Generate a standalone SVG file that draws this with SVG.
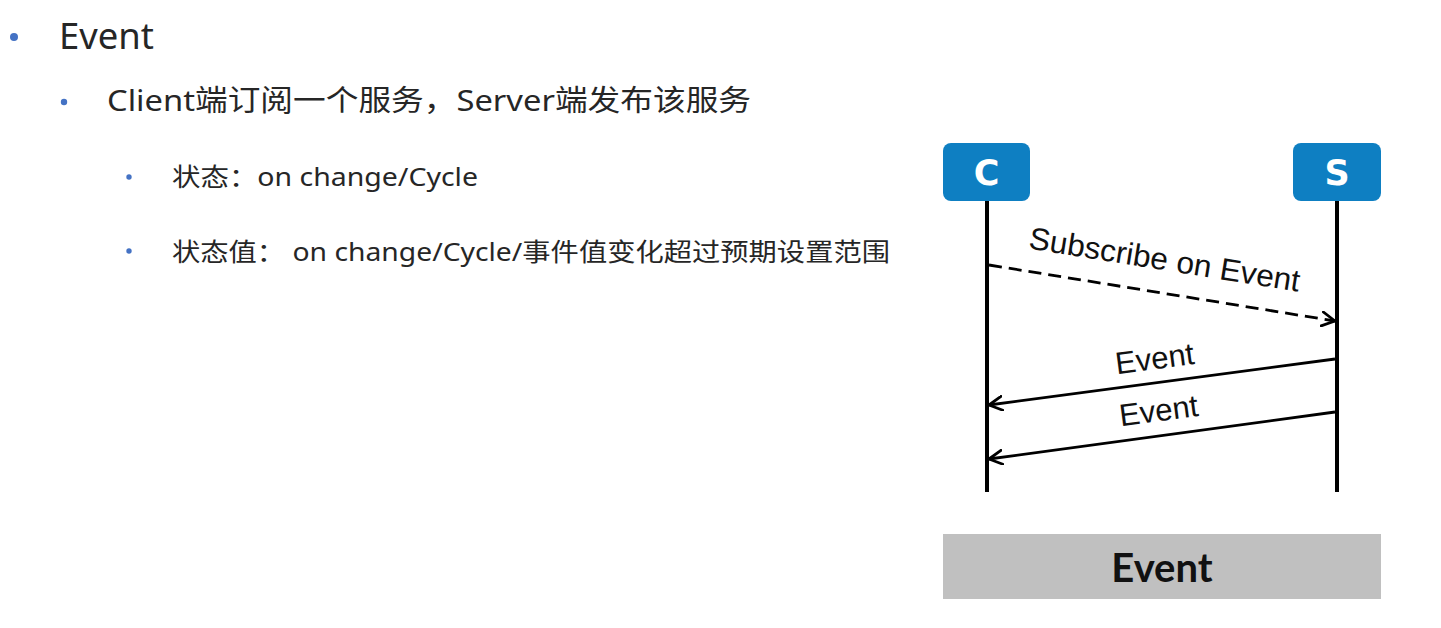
<svg xmlns="http://www.w3.org/2000/svg" width="1441" height="628" viewBox="0 0 1441 628">
<style>
.txt{font-family:"Noto Sans","Noto Sans CJK SC",sans-serif;fill:#262626}
.bul{fill:#4472c4}
.lbl{font-family:"Liberation Sans",Arial,sans-serif;font-size:31px;fill:#111}
.node{fill:#0e7fc2}
.nl{font-family:"DejaVu Sans",sans-serif;font-weight:bold;font-size:35px;fill:#fff;text-anchor:middle}
.life{stroke:#000;stroke-width:4;fill:none}
.msg{stroke:#000;stroke-width:2.8;fill:none;marker-end:url(#open)}
.dash{stroke-dasharray:13 7}
</style>
<defs>
<marker id="open" viewBox="0 0 16 16" refX="14" refY="8" markerWidth="16" markerHeight="16" markerUnits="userSpaceOnUse" orient="auto">
<path d="M1,1 L14,8 L1,15" fill="none" stroke="#000" stroke-width="2.8" stroke-linecap="round" stroke-linejoin="round"/>
</marker>
</defs>
<rect width="1441" height="628" fill="#fff"/>

<g id="bullets">
<circle class="bul" cx="14" cy="37" r="4"/>
<text class="txt" x="59" y="49" font-size="36" textLength="95" lengthAdjust="spacingAndGlyphs">Event</text>
<circle class="bul" cx="64" cy="102" r="3.2"/>
<text class="txt" x="107" y="111" font-size="29" textLength="644" lengthAdjust="spacingAndGlyphs">Client端订阅一个服务，Server端发布该服务</text>
<circle class="bul" cx="129" cy="177" r="2.7"/>
<text class="txt" x="172" y="186" font-size="25" textLength="306" lengthAdjust="spacingAndGlyphs">状态：on change/Cycle</text>
<circle class="bul" cx="129" cy="251" r="2.7"/>
<text class="txt" x="172" y="261" font-size="25" textLength="718" lengthAdjust="spacingAndGlyphs">状态值： on change/Cycle/事件值变化超过预期设置范围</text>
</g>

<g id="client">
<rect class="node" x="943" y="143" width="87" height="58" rx="8"/>
<text class="nl" x="986.5" y="185">C</text>
</g>
<g id="server">
<rect class="node" x="1293" y="143" width="88" height="58" rx="8"/>
<text class="nl" x="1337" y="185">S</text>
</g>

<g id="lifelines">
<line class="life" x1="987" y1="201" x2="987" y2="492"/>
<line class="life" x1="1337" y1="201" x2="1337" y2="492"/>
</g>

<g id="connectors">
<line class="msg dash" x1="989" y1="265" x2="1335" y2="321"/>
<line class="msg" x1="1335" y1="359" x2="989" y2="405"/>
<line class="msg" x1="1335" y1="412" x2="989" y2="459"/>
</g>

<g id="labels">
<text class="lbl" x="1163" y="270" text-anchor="middle" transform="rotate(9.1 1163 270)" textLength="274" lengthAdjust="spacingAndGlyphs">Subscribe on Event</text>
<text class="lbl" x="1156" y="369" text-anchor="middle" transform="rotate(-7.5 1156 369)">Event</text>
<text class="lbl" x="1160" y="421" text-anchor="middle" transform="rotate(-7.5 1160 421)">Event</text>
</g>

<g id="legend">
<rect x="943" y="534" width="438" height="65" fill="#c0c0c0"/>
<text x="1162" y="582" text-anchor="middle" font-family="Lato,'Liberation Sans',sans-serif" font-weight="bold" font-size="40" fill="#111">Event</text>
</g>
</svg>
